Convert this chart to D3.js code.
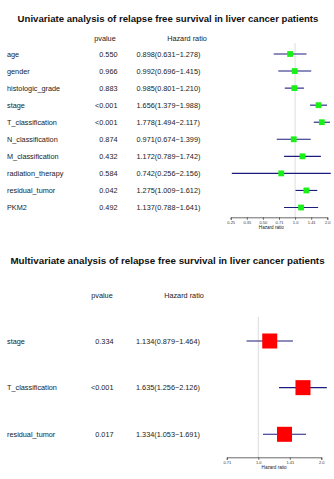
<!DOCTYPE html>
<html>
<head>
<meta charset="utf-8">
<script src="https://cdn.jsdelivr.net/npm/d3@7"></script>
<style>
  body { margin: 0; background: #fff; }
  svg text { font-family: "Liberation Sans", Arial, sans-serif; fill: #222; }
</style>
</head>
<body>
<div id="chart"></div>
<script>
// univariate
const uniVars = ["age", "gender", "histologic_grade", "stage", "T_classification",
  "N_classification", "M_classification", "radiation_therapy", "residual_tumor", "PKM2"];
const uniP = ["0.550", "0.966", "0.883", "<0.001", "<0.001", "0.874", "0.432", "0.584", "0.042", "0.492"];
const uniHR = [0.898, 0.992, 0.985, 1.656, 1.778, 0.971, 1.172, 0.742, 1.275, 1.137];
const uniLow = [0.631, 0.696, 0.801, 1.379, 1.494, 0.674, 0.789, 0.256, 1.009, 0.788];
const uniHigh = [1.278, 1.415, 1.210, 1.988, 2.117, 1.399, 1.742, 2.156, 1.612, 1.641];
const uniTicks = [0.25, 0.3536, 0.5, 0.7071, 1, 1.4142, 2];
const uniTickLabels = ["0.25", "0.35", "0.50", "0.71", "1.0", "1.41", "2.0"];

// multivariate
const multiVars = ["stage", "T_classification", "residual_tumor"];
const multiP = ["0.334", "<0.001", "0.017"];
const multiHR = [1.134, 1.635, 1.334];
const multiLow = [0.879, 1.256, 1.053];
const multiHigh = [1.464, 2.126, 1.691];
const multiTicks = [0.7071, 1, 1.4142, 2];
const multiTickLabels = ["0.71", "1.0", "1.41", "2.0"];

const W = 334, H = 479;
const svg = d3.select("#chart").append("svg")
  .attr("width", W).attr("height", H);

function fmt(v) { return v.toFixed(3); }

function forest(cfg) {
  const rows = cfg.vars.map((v, i) => ({
    name: v, p: cfg.p[i], hr: cfg.hr[i], lo: cfg.lo[i], hi: cfg.hi[i]
  }));

  const g = svg.append("g");

  g.append("text")
    .attr("x", cfg.titleX).attr("y", cfg.titleY)
    .attr("text-anchor", "middle")
    .attr("font-size", cfg.titleSize).attr("font-weight", "bold")
    .style("fill", "#111")
    .text(cfg.title);

  g.append("text").attr("x", cfg.pHeadX).attr("y", cfg.headY)
    .attr("text-anchor", "middle").attr("font-size", 7.3).text("pvalue");
  g.append("text").attr("x", cfg.hrHeadX).attr("y", cfg.headY)
    .attr("text-anchor", "middle").attr("font-size", 7.3).text("Hazard ratio");

  const x = d3.scaleLog().domain(cfg.domain).range(cfg.range);
  const y = d3.scalePoint().domain(rows.map(d => d.name)).range(cfg.yRange);

  // reference line at HR = 1
  g.append("line")
    .attr("x1", x(1)).attr("x2", x(1))
    .attr("y1", cfg.refTop).attr("y2", cfg.axisY)
    .attr("stroke", "#ddd").attr("stroke-width", 1);

  const row = g.selectAll(".row").data(rows).enter().append("g")
    .attr("class", "row")
    .attr("transform", d => "translate(0," + y(d.name) + ")");

  row.append("text").attr("x", 7).attr("dy", "0.35em")
    .attr("font-size", 7.3).text(d => d.name);
  row.append("text").attr("x", cfg.pRight).attr("dy", "0.35em")
    .attr("text-anchor", "end").attr("font-size", 7.3).text(d => d.p);
  row.append("text").attr("x", cfg.hrLeft).attr("dy", "0.35em")
    .attr("font-size", 7.3)
    .text(d => fmt(d.hr) + "(" + fmt(d.lo) + "\u2212" + fmt(d.hi) + ")");

  row.append("line")
    .attr("x1", d => x(d.lo)).attr("x2", d => x(d.hi))
    .attr("stroke", "#1c1c7c").attr("stroke-width", 1.1);

  row.append("rect")
    .attr("x", d => x(d.hr) - cfg.box / 2)
    .attr("y", -cfg.box / 2)
    .attr("width", cfg.box).attr("height", cfg.box)
    .attr("fill", cfg.color);

  const axis = d3.axisBottom(x)
    .tickValues(cfg.ticks)
    .tickFormat((d, i) => cfg.tickLabels[i])
    .tickSize(2.5).tickPadding(1.5);

  const ax = g.append("g")
    .attr("transform", "translate(0," + cfg.axisY + ")")
    .call(axis);
  ax.select(".domain").attr("stroke", "#444").attr("stroke-width", 0.8);
  ax.selectAll(".tick line").attr("stroke", "#444").attr("stroke-width", 0.8);
  ax.selectAll(".tick text")
    .attr("font-size", 4).attr("font-family", "Liberation Sans, Arial, sans-serif")
    .style("fill", "#333");

  g.append("text")
    .attr("x", x(cfg.labelAt)).attr("y", cfg.axisY + 12)
    .attr("text-anchor", "middle").attr("font-size", 4.6)
    .text("Hazard ratio");
}

forest({
  title: "Univariate analysis of relapse free survival in liver cancer patients",
  titleX: 168, titleY: 21.5, titleSize: 9.6, headY: 40.5, pHeadX: 105, hrHeadX: 187,
  vars: uniVars, p: uniP, hr: uniHR, lo: uniLow, hi: uniHigh,
  domain: [0.25, 2], range: [230.7, 327.3],
  yRange: [54, 207.5], refTop: 43, axisY: 217.3,
  pRight: 117.5, hrLeft: 136.5, box: 5.8, color: "#18f018",
  ticks: uniTicks, tickLabels: uniTickLabels, labelAt: 0.6
});

forest({
  title: "Multivariate analysis of relapse free survival in liver cancer patients",
  titleX: 167.5, titleY: 264, titleSize: 9.8, headY: 297.5, pHeadX: 102, hrHeadX: 184,
  vars: multiVars, p: multiP, hr: multiHR, lo: multiLow, hi: multiHigh,
  domain: [0.7071, 2], range: [226.8, 321.3],
  yRange: [341, 434.3], refTop: 317, axisY: 457.3,
  pRight: 113.5, hrLeft: 136, box: 15, color: "#ff0000",
  ticks: multiTicks, tickLabels: multiTickLabels, labelAt: 1.19
});
</script>
</body>
</html>
